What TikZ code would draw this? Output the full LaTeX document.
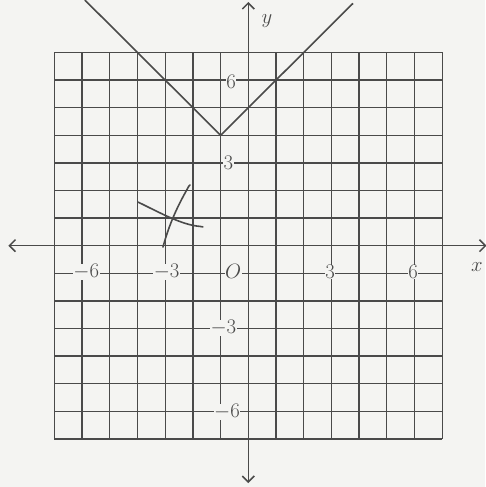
\documentclass[tikz,border=0pt]{standalone}
\usetikzlibrary{arrows.meta}
\definecolor{ink}{HTML}{4A4A4A}
\definecolor{paper}{HTML}{F4F4F2}
\begin{document}
\begin{tikzpicture}[x=27.7pt,y=27.6pt,
  gridline/.style={ink,line width=1.3pt},
  axisline/.style={ink,line width=1.5pt,{Straight Barb[length=6pt,width=12pt]}-{Straight Barb[length=6pt,width=12pt]}},
  curveline/.style={ink,line width=1.6pt},
  pencil/.style={ink,line width=1.6pt,line cap=round},
  lbl/.style={ink,font=\fontsize{20}{20}\selectfont,inner sep=0.5pt,fill=paper}]
\fill[paper] (-8.964,-8.743) rectangle (8.545,8.902);
\useasboundingbox (-8.964,-8.743) rectangle (8.545,8.902);
% grid
\draw[gridline,step=1] (-7,-7) grid (7,7);
% axes
\coordinate (xl) at (-8.66,0);
\coordinate (xr) at (8.6,0);
\coordinate (yt) at (0,8.83);
\coordinate (yb) at (0,-8.6);
\draw[axisline] (xl) -- (xr);
\draw[axisline] (yb) -- (yt);
\node[ink,font=\fontsize{20}{20}\selectfont\itshape] (ylab) at (0.67,8.15) {$y$};
\node[ink,font=\fontsize{20}{20}\selectfont\itshape] (xlab) at (8.25,-0.78) {$x$};
% V graph
\coordinate (vl) at (-5.9,8.9);
\coordinate (vv) at (-1,4);
\coordinate (vr) at (3.78,8.78);
\draw[curveline] (vl) -- (vv) -- (vr);
% axis labels
\node[lbl] (xm6) at (-5.85,-0.95) {$-6$};
\node[lbl] (xm3) at (-2.95,-0.95) {$-3$};
\node[ink,font=\fontsize{20}{20}\selectfont,fill=paper,inner sep=0.5pt] (orig) at (-0.55,-0.95) {$O$};
\node[lbl] (xp3) at (2.95,-0.95) {$3$};
\node[lbl] (xp6) at (5.95,-0.95) {$6$};
\node[lbl] (yp6) at (-0.62,5.93) {$6$};
\node[lbl] (yp3) at (-0.72,2.99) {$3$};
\node[lbl] (ym3) at (-0.9,-2.98) {$-3$};
\node[lbl] (ym6) at (-0.77,-6.03) {$-6$};
% pencil marks
\coordinate (pa) at (-3.98,1.58);
\coordinate (pb) at (-1.64,0.68);
\coordinate (pc) at (-3.08,-0.05);
\coordinate (pd) at (-2.1,2.2);
\draw[pencil] (pa) .. controls (-3.2,1.2) and (-2.4,0.75) .. (-1.75,0.7) -- (pb);
\draw[pencil] (pc) .. controls (-2.8,1.0) and (-2.4,1.7) .. (-2.15,2.15) -- (pd);
\end{tikzpicture}
\end{document}
